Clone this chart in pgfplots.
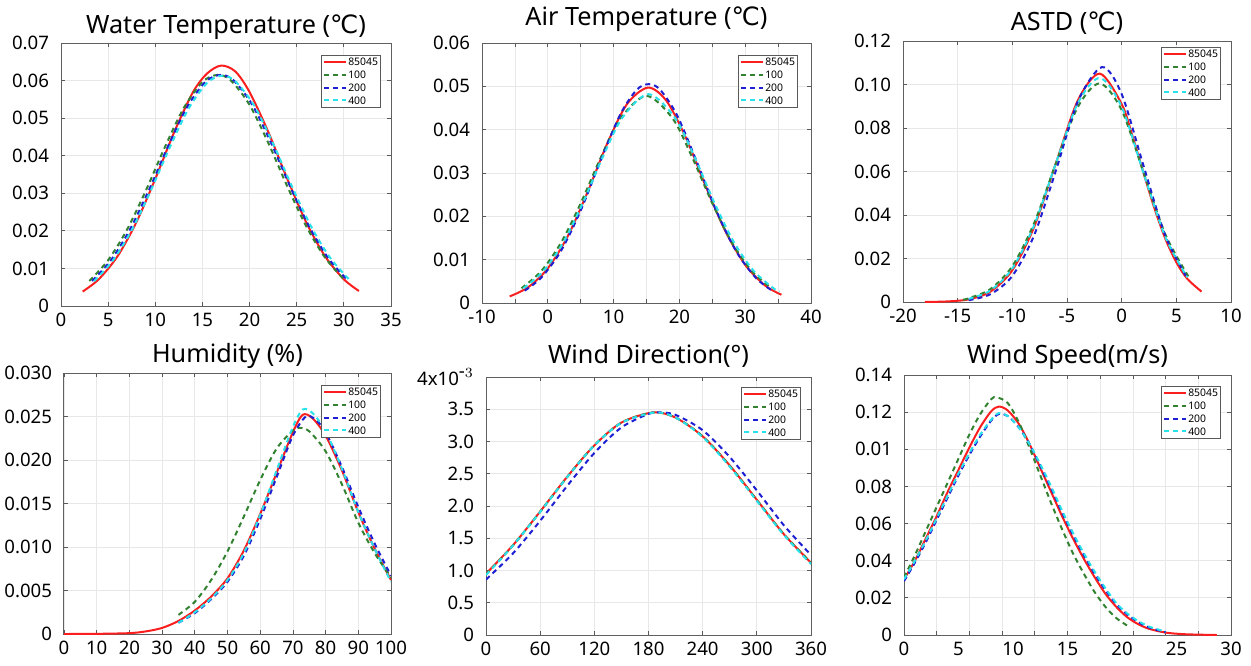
\documentclass[border=0pt]{standalone}
\usepackage{fontspec}
\setmainfont{Noto Sans}
\newfontfamily\dejavu{DejaVu Sans}
\usepackage{pgfplots}
\pgfplotsset{compat=1.18}

\definecolor{cred}{RGB}{250,30,30}
\definecolor{cgreen}{RGB}{50,130,50}
\definecolor{cblue}{RGB}{30,30,210}
\definecolor{ccyan}{RGB}{40,225,235}

\pgfplotsset{
  every axis title shift=0pt,
  panel/.style={
    scale only axis,
    axis line style={gray!75!black, line width=0.5pt},
    grid=major, grid style={gray!18, line width=0.4pt},
    tick align=inside, major tick length=2pt, tick style={gray!70!black, line width=0.4pt},
    ticklabel style={font=\fontsize{9.3}{10}\selectfont},
    yticklabel style={xshift=-2.5pt},
    /pgf/number format/assume math mode=true,
    title style={font=\fontsize{12.6}{14}\selectfont, at={(0.5,1)}, anchor=base},
    legend style={at={(1,1)}, anchor=north east, xshift=-5pt, yshift=-6pt,
      font=\fontsize{5.2}{5.2}\selectfont, draw=gray!70!black, line width=0.4pt,
      inner sep=0.8pt, row sep=1.4pt,
      nodes={inner sep=0.5pt, text height=3.8pt, text depth=0.2pt}},
    legend cell align=left,
    legend image code/.code={\draw[##1] (0pt,0pt) -- (11pt,0pt);},
    every axis plot/.append style={line width=1pt, smooth},
    enlargelimits=false, scaled ticks=false,
  },
  s85/.style={cred},
  s100/.style={cgreen, dash pattern=on 2.5pt off 2pt},
  s200/.style={cblue, dash pattern=on 2.5pt off 2pt},
  s400/.style={ccyan, dash pattern=on 2.5pt off 2pt},
}

\begin{document}
\begin{tikzpicture}

% Water temperature
\begin{axis}[panel, at={(30.5pt,-21.5pt)}, anchor=north west, width=165pt, height=131.5pt,
  title={Water Temperature ({\dejavu ℃})}, title style={yshift=5pt},
  xmin=0, xmax=35, ymin=0, ymax=0.07,
  xtick={0,5,...,35}, xticklabels={0,5,10,15,20,25,30,35},
  ytick={0,0.01,0.02,0.03,0.04,0.05,0.06,0.07},
  yticklabels={0,0.01,0.02,0.03,0.04,0.05,0.06,0.07}]
\addplot[s85] coordinates {(2.3,0.00385) (4,0.00711) (6,0.01326) (8,0.02232) (10,0.03384) (12,0.04623) (14,0.05693) (15.5,0.0619) (17,0.064) (18.5,0.0624) (20,0.05693) (22,0.04623) (24,0.03384) (26,0.02232) (28,0.01326) (30,0.00711) (31.6,0.0040)};
\addlegendentry{85045}
\addplot[s100] coordinates {(3,0.00666) (5,0.01221) (7,0.02031) (9,0.03072) (11,0.04219) (13,0.05263) (15,0.05964) (16.6,0.0615) (18,0.06007) (20,0.05352) (22,0.04332) (24,0.03185) (26,0.02127) (28,0.0129) (30,0.00711)};
\addlegendentry{100}
\addplot[s200] coordinates {(3.3,0.00666) (5.3,0.01221) (7.3,0.02031) (9.3,0.03072) (11.3,0.04219) (13.3,0.05263) (15.3,0.05964) (16.9,0.0615) (18.3,0.06007) (20.3,0.05352) (22.3,0.04332) (24.3,0.03185) (26.3,0.02127) (28.3,0.0129) (30.3,0.00711)};
\addlegendentry{200}
\addplot[s400] coordinates {(3.5,0.0066) (5.5,0.0121) (7.5,0.0202) (9.5,0.0306) (11.5,0.0420) (13.5,0.0524) (15.5,0.0594) (17.1,0.0613) (18.5,0.0598) (20.5,0.0533) (22.5,0.0432) (24.5,0.0318) (26.5,0.0213) (28.5,0.0130) (30.5,0.0072)};
\addlegendentry{400}
\end{axis}

% Air temperature
\begin{axis}[panel, at={(241pt,-21.5pt)}, anchor=north west, width=164.5pt, height=130pt,
  title={Air Temperature ({\dejavu ℃})}, title style={yshift=9pt},
  legend style={xshift=-1.5pt},
  xmin=-10, xmax=40, ymin=0, ymax=0.06,
  xtick={-10,-5,...,40}, xticklabels={-10,,0,,10,,20,,30,,40},
  ytick={0,0.01,0.02,0.03,0.04,0.05,0.06},
  yticklabels={0,0.01,0.02,0.03,0.04,0.05,0.06}]
\addplot[s85] coordinates {(-5.8,0.00152) (-3,0.00362) (0,0.0080) (3,0.01532) (6,0.02545) (9,0.03668) (12,0.04583) (15.2,0.0497) (18,0.04671) (21,0.0381) (24,0.02695) (27,0.01653) (30,0.0088) (33,0.00406) (35.5,0.0019)};
\addlegendentry{85045}
\addplot[s100] coordinates {(-4,0.00341) (-1,0.00736) (2,0.0139) (5,0.02301) (8,0.03341) (11,0.04252) (15,0.0478) (19,0.04252) (22,0.03341) (25,0.02301) (28,0.0139) (31,0.00736) (34,0.00341)};
\addlegendentry{100}
\addplot[s200] coordinates {(-3.5,0.00286) (-1,0.00584) (2,0.01201) (5,0.02135) (8,0.03277) (11,0.04347) (13.5,0.04919) (15.3,0.0505) (17,0.04933) (19.6,0.04347) (22.6,0.03277) (25.6,0.02135) (28.6,0.01201) (31.6,0.00584) (34,0.00295)};
\addlegendentry{200}
\addplot[s400] coordinates {(-3.7,0.0034) (-0.7,0.0073) (2.3,0.0138) (5.3,0.0230) (8.3,0.0335) (11.3,0.0427) (15.3,0.0482) (19.3,0.0428) (22.3,0.0337) (25.3,0.0232) (28.3,0.0140) (31.3,0.0074) (34.3,0.0034) (35.2,0.0026)};
\addlegendentry{400}
\end{axis}

% ASTD
\begin{axis}[panel, at={(451.5pt,-20.5pt)}, anchor=north west, width=164pt, height=130.5pt,
  title={ASTD ({\dejavu ℃})}, title style={yshift=5.5pt},
  legend style={yshift=3pt},
  xmin=-20, xmax=10, ymin=0, ymax=0.12,
  xtick={-20,-15,...,10}, xticklabels={-20,-15,-10,-5,0,5,10},
  ytick={0,0.02,0.04,0.06,0.08,0.10,0.12},
  yticklabels={0,0.02,0.04,0.06,0.08,0.10,0.12}]
\addplot[s85] coordinates {(-18,0.00004) (-16,0.00025) (-14,0.00123) (-12,0.0048) (-10,0.0146) (-8,0.03457) (-6,0.06407) (-4,0.0928) (-2,0.105) (0,0.0910) (1,0.0761) (2,0.0593) (3,0.0430) (4,0.0290) (5,0.01825) (6,0.01068) (7.3,0.0048)};
\addlegendentry{85045}
\addplot[s100] coordinates {(-14.5,0.0011) (-14,0.00172) (-12,0.00596) (-10,0.01649) (-8,0.03635) (-6,0.06396) (-4,0.08977) (-2,0.1005) (0,0.0882) (2,0.05958) (4,0.0310) (6.1,0.01178)};
\addlegendentry{100}
\addplot[s200] coordinates {(-14,0.00083) (-12,0.0036) (-10,0.0120) (-8,0.03076) (-6,0.06068) (-4,0.0922) (-1.8,0.108) (0,0.0956) (2,0.0626) (4,0.0304) (6,0.01088)};
\addlegendentry{200}
\addplot[s400] coordinates {(-14,0.00144) (-12,0.0053) (-10,0.01542) (-8,0.0354) (-6,0.0641) (-4,0.0915) (-2,0.103) (0,0.0897) (2,0.0593) (4,0.0298) (6,0.01133)};
\addlegendentry{400}
\end{axis}

% Humidity
\begin{axis}[panel, at={(32pt,-186.5pt)}, anchor=north west, width=163.5pt, height=130.5pt,
  title={Humidity (\%)}, title style={yshift=5.5pt},
  xmin=0, xmax=100, ymin=0, ymax=0.03,
  xtick={0,10,...,100}, xticklabels={0,10,20,30,40,50,60,70,80,90,100},
  ytick={0,0.005,0.010,0.015,0.020,0.025,0.030},
  yticklabels={0,0.005,0.010,0.015,0.020,0.025,0.030}]
\addplot[s85] coordinates {(0,0) (10,0.00002) (20,0.0001) (25,0.0003) (30,0.0007) (35,0.0015) (40,0.0027) (45,0.0043) (50,0.0064) (55,0.0096) (60,0.0138) (65,0.0185) (70,0.0232) (73,0.0252) (76,0.0248) (80,0.0228) (85,0.0188) (90,0.0140) (95,0.0098) (100,0.0062)};
\addlegendentry{85045}
\addplot[s100] coordinates {(35,0.0022) (40,0.0037) (45,0.0062) (50,0.0095) (55,0.0135) (60,0.0177) (65,0.0213) (70,0.0234) (72,0.0237) (75,0.0233) (80,0.0210) (85,0.0172) (90,0.0128) (95,0.0093) (100,0.0065)};
\addlegendentry{100}
\addplot[s200] coordinates {(35,0.0013) (40,0.0024) (45,0.0040) (50,0.0060) (55,0.0090) (60,0.0132) (65,0.0180) (70,0.0228) (74,0.0250) (77,0.0246) (80,0.0232) (85,0.0192) (90,0.0146) (95,0.0104) (100,0.0067)};
\addlegendentry{200}
\addplot[s400] coordinates {(35,0.0013) (40,0.0025) (45,0.0041) (50,0.0062) (55,0.0093) (60,0.0137) (65,0.0188) (70,0.0238) (73,0.0258) (76,0.0254) (80,0.0233) (85,0.0190) (90,0.0140) (95,0.0098) (100,0.0060)};
\addlegendentry{400}
\end{axis}

% Wind direction
\begin{axis}[panel, at={(243pt,-188.5pt)}, anchor=north west, width=162.5pt, height=129pt,
  title={Wind Direction(°)}, title style={yshift=7pt},
  legend style={yshift=1pt},
  xmin=0, xmax=360, ymin=0, ymax=4,
  xtick={0,60,...,360}, xticklabels={0,60,120,180,240,300,360},
  ytick={0,0.5,1,1.5,2,2.5,3,3.5,4},
  yticklabels={0,0.5,1.0,1.5,2.0,2.5,3.0,3.5,{4x10$^{\mbox{-}3}$}}]
\addplot[s85] coordinates {(0,0.95) (30,1.395) (60,1.915) (90,2.455) (120,2.94) (150,3.294) (185,3.45) (210,3.370) (240,3.08) (270,2.628) (300,2.096) (330,1.562) (360,1.12)};
\addlegendentry{85045}
\addplot[s100] coordinates {(0,0.94) (30,1.39) (60,1.91) (90,2.45) (120,2.94) (150,3.29) (185,3.45) (210,3.37) (240,3.08) (270,2.62) (300,2.09) (330,1.56) (360,1.12)};
\addlegendentry{100}
\addplot[s200] coordinates {(0,0.86) (30,1.267) (60,1.771) (90,2.313) (120,2.822) (150,3.218) (180,3.428) (193,3.45) (210,3.413) (240,3.175) (270,2.759) (300,2.241) (330,1.700) (360,1.24)};
\addlegendentry{200}
\addplot[s400] coordinates {(0,0.93) (30,1.39) (60,1.91) (90,2.45) (120,2.94) (150,3.29) (187,3.45) (210,3.37) (240,3.07) (270,2.61) (300,2.08) (330,1.55) (360,1.10)};
\addlegendentry{400}
\end{axis}

% Wind speed
\begin{axis}[panel, at={(452pt,-187.5pt)}, anchor=north west, width=163.5pt, height=130pt,
  title={Wind Speed(m/s)}, title style={yshift=6pt},
  legend style={yshift=0.5pt},
  xmin=0, xmax=30, ymin=0, ymax=0.14,
  xtick={0,3,...,30}, xticklabels={},
  extra x ticks={0,5,10,15,20,25,30}, extra x tick labels={0,5,10,15,20,25,30},
  extra x tick style={grid=none, major tick length=0pt},
  ytick={0,0.02,0.04,0.06,0.08,0.10,0.12,0.14},
  yticklabels={0,0.02,0.04,0.06,0.08,0.01,0.12,0.14}]
\addplot[s85] coordinates {(0,0.030) (1,0.040) (2,0.052) (3,0.064) (4,0.077) (5,0.089) (6,0.101) (7,0.112) (8,0.1205) (8.7,0.123) (9.5,0.121) (10.5,0.114) (11.5,0.103) (12.5,0.090) (13.5,0.077) (14.5,0.064) (15.5,0.052) (16.5,0.041) (17.5,0.031) (18.5,0.022) (19.5,0.015) (20.5,0.0095) (21.5,0.0058) (22.5,0.0033) (24,0.0013) (25.5,0.0005) (27,0.0002) (28.7,0)};
\addlegendentry{85045}
\addplot[s100] coordinates {(0,0.031) (1,0.043) (2,0.056) (3,0.069) (4,0.082) (5,0.095) (6,0.108) (7,0.119) (8,0.127) (8.5,0.128) (9.5,0.125) (10.5,0.115) (11.5,0.101) (12.5,0.086) (13.5,0.071) (14.5,0.057) (15.5,0.044) (16.5,0.033) (17.5,0.023) (18.5,0.015) (19.5,0.009) (20.5,0.005)};
\addlegendentry{100}
\addplot[s200] coordinates {(0,0.029) (1,0.039) (2,0.050) (3,0.062) (4,0.074) (5,0.086) (6,0.097) (7,0.107) (8,0.1155) (8.7,0.119) (9.5,0.118) (10.5,0.112) (11.5,0.103) (12.5,0.091) (13.5,0.079) (14.5,0.066) (15.5,0.054) (16.5,0.043) (17.5,0.033) (18.5,0.024) (19.5,0.0165) (20.5,0.011) (21.5,0.007) (22.5,0.004) (24,0.0015)};
\addlegendentry{200}
\addplot[s400] coordinates {(0,0.030) (1,0.040) (2,0.051) (3,0.063) (4,0.075) (5,0.087) (6,0.098) (7,0.108) (8,0.116) (8.7,0.1195) (9.5,0.118) (10.5,0.112) (11.5,0.103) (12.5,0.092) (13.5,0.080) (14.5,0.067) (15.5,0.055) (16.5,0.044) (17.5,0.034) (18.5,0.025) (19.5,0.017) (20.5,0.0115) (21.5,0.0075) (22.5,0.0045) (24,0.0018)};
\addlegendentry{400}
\end{axis}

\pgfresetboundingbox
\path (0,0) rectangle (625.5pt,-332.5pt);
\end{tikzpicture}
\end{document}
